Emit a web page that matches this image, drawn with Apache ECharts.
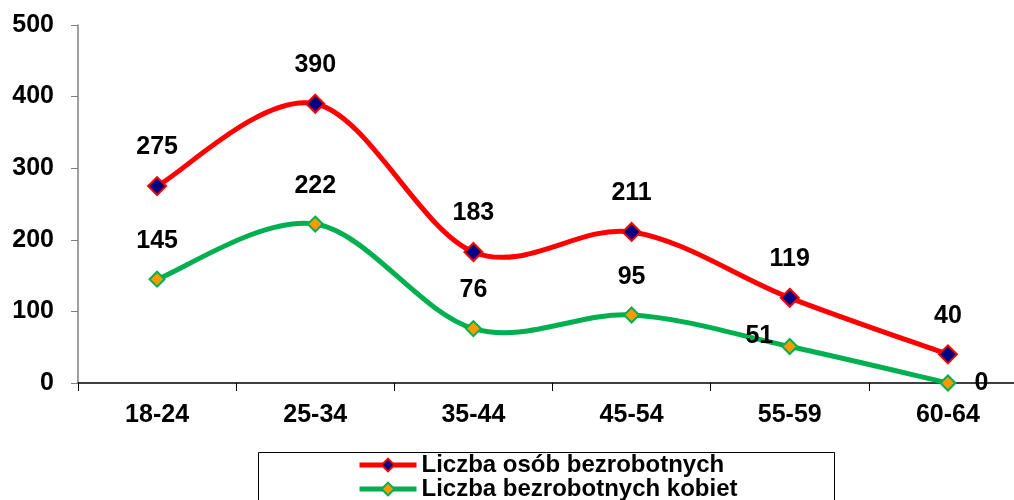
<!DOCTYPE html>
<html lang="pl">
<head>
    <meta charset="UTF-8">
    <title>Bezrobotni wg wieku</title>
    <script src="https://cdn.jsdelivr.net/npm/echarts@6/dist/echarts.min.js"></script>
    <style>
        html, body { margin: 0; padding: 0; background: #fff; overflow: hidden; }
        /* wykres troche szerszy niz okno - ostatnia kategoria wychodzi za krawedz jak w oryginale */
        #chart { width: 1030px; height: 500px; }
    </style>
</head>
<body>
    <div id="chart"></div>
    <script>
        // dane
        var categories = ['18-24', '25-34', '35-44', '45-54', '55-59', '60-64'];
        var ogolem = [275, 390, 183, 211, 119, 40];
        var kobiety = [145, 222, 76, 95, 51, 0];
        var seriesNames = ['Liczba osób bezrobotnych', 'Liczba bezrobotnych kobiet'];

        var font = 'Liberation Sans, Arial, sans-serif';
        var chart = echarts.init(document.getElementById('chart'));

        // wygladzanie w stylu Excela (Catmull-Rom, 1/6), rysowane przez api.coord
        function smoothRender(values, color) {
            return function (params, api) {
                var i = params.dataIndex;
                if (i >= values.length - 1) return null;
                var p = function (k) {
                    k = Math.max(0, Math.min(values.length - 1, k));
                    return api.coord([k, values[k]]);
                };
                var p0 = p(i - 1), p1 = p(i), p2 = p(i + 1), p3 = p(i + 2);
                return {
                    type: 'bezierCurve',
                    shape: {
                        x1: p1[0], y1: p1[1],
                        cpx1: p1[0] + (p2[0] - p0[0]) / 6,
                        cpy1: p1[1] + (p2[1] - p0[1]) / 6,
                        cpx2: p2[0] - (p3[0] - p1[0]) / 6,
                        cpy2: p2[1] - (p3[1] - p1[1]) / 6,
                        x2: p2[0], y2: p2[1]
                    },
                    style: { stroke: color, lineWidth: 5, fill: null, lineCap: 'round' },
                    silent: true
                };
            };
        }

        // etykiety: 51 po lewej, 0 po prawej (jak w oryginale)
        var kobietyData = kobiety.map(function (v, i) {
            var item = { value: v };
            if (i === 4) item.label = { position: 'left', distance: 8, offset: [0, -10] };
            if (i === 5) item.label = { position: 'right', distance: 18 };
            return item;
        });

        function labelStyle(dist) {
            return {
                show: true,
                position: 'top',
                distance: dist,
                fontSize: 25,
                fontWeight: 'bold',
                fontFamily: font,
                color: '#000'
            };
        }

        var legendText = { fontSize: 24, fontWeight: 'bold', fontFamily: font, color: '#000' };

        chart.setOption({
            animation: false,
            grid: { left: 78, right: 3, top: 25, bottom: 117 },
            graphic: [{
                type: 'rect',
                left: 258,
                top: 452,
                shape: { width: 576, height: 60 },
                style: { fill: '#fff', stroke: '#000', lineWidth: 1 },
                z: 0
            }],
            legend: [
                {
                    left: 357, top: 453, padding: 0,
                    itemWidth: 57, itemHeight: 16, itemGap: 0,
                    data: [{ name: seriesNames[0], lineStyle: { color: '#ff0000', width: 5, opacity: 1 } }],
                    textStyle: legendText
                },
                {
                    left: 357, top: 477, padding: 0,
                    itemWidth: 57, itemHeight: 16, itemGap: 0,
                    data: [{ name: seriesNames[1], lineStyle: { color: '#00b050', width: 5, opacity: 1 } }],
                    textStyle: legendText
                }
            ],
            xAxis: {
                type: 'category',
                data: categories,
                boundaryGap: true,
                axisLine: { lineStyle: { color: '#000', width: 1.5 } },
                axisTick: { show: true, length: 8, lineStyle: { color: '#000' } },
                axisLabel: { margin: 20, fontSize: 25, fontWeight: 'bold', fontFamily: font, color: '#000' },
                splitLine: { show: false }
            },
            yAxis: {
                type: 'value',
                min: 0,
                max: 500,
                interval: 100,
                axisLine: { show: true, lineStyle: { color: '#808080', width: 1.5 } },
                axisTick: { show: true, length: 7, lineStyle: { color: '#808080' } },
                axisLabel: { margin: 24, fontSize: 25, fontWeight: 'bold', fontFamily: font, color: '#000' },
                splitLine: { show: false }
            },
            series: [
                {
                    type: 'custom',
                    data: ogolem.map(function (v, i) { return [i, v]; }),
                    renderItem: smoothRender(ogolem, '#ff0000'),
                    z: 2
                },
                {
                    type: 'custom',
                    data: kobiety.map(function (v, i) { return [i, v]; }),
                    renderItem: smoothRender(kobiety, '#00b050'),
                    z: 1
                },
                {
                    name: seriesNames[0],
                    type: 'line',
                    data: ogolem,
                    symbol: 'diamond',
                    symbolSize: 18,
                    lineStyle: { color: '#ff0000', width: 5, opacity: 0 },
                    itemStyle: { color: '#000080', borderColor: '#ff0000', borderWidth: 2 },
                    label: labelStyle(16),
                    z: 4
                },
                {
                    name: seriesNames[1],
                    type: 'line',
                    data: kobietyData,
                    symbol: 'diamond',
                    symbolSize: 15,
                    lineStyle: { color: '#00b050', width: 5, opacity: 0 },
                    itemStyle: { color: '#ff9900', borderColor: '#00b050', borderWidth: 2 },
                    label: labelStyle(17),
                    z: 3
                }
            ]
        });
    </script>
</body>
</html>
